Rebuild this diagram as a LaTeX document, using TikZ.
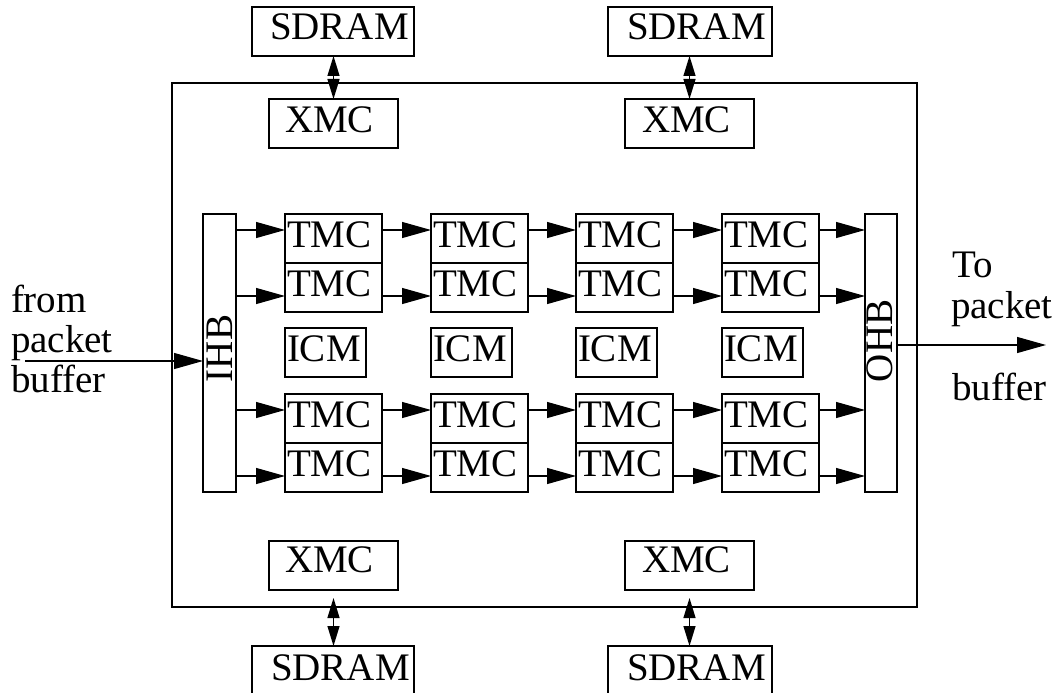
\documentclass[tikz,border=0pt]{standalone}
\usepackage{fontspec}
\setmainfont{Liberation Serif}
\usetikzlibrary{arrows.meta,calc}
\begin{document}
\begin{tikzpicture}[x=1pt,y=-1pt,
  box/.style={draw, line width=1.2pt, inner sep=0pt, outer sep=0pt, anchor=north west},
  lbl/.style={inner sep=0pt, outer sep=0pt, anchor=base west, font=\fontsize{39}{40}\selectfont},
  fw/.style={line width=1.2pt, -{Triangle[length=29pt,width=16pt]}},
  bi/.style={line width=1.2pt, {Triangle[length=20pt,width=12pt]}-{Triangle[length=20pt,width=12pt]}}]
\useasboundingbox (0,0) rectangle (1055,693);
\clip (0,0) rectangle (1055,693);

% chip outline
\node[box, minimum width=745pt, minimum height=524pt] (chip) at (172,83) {};

% SDRAM and XMC
\node[box, minimum width=162pt, minimum height=49pt] (sdtl) at (252,7) {};
\node[box, minimum width=164pt, minimum height=49pt] (sdtr) at (608,7) {};
\node[box, minimum width=129pt, minimum height=49pt] (xtl) at (269,99) {};
\node[box, minimum width=129pt, minimum height=49pt] (xtr) at (625,99) {};
\node[box, minimum width=129pt, minimum height=49pt] (xbl) at (269,541) {};
\node[box, minimum width=129pt, minimum height=49pt] (xbr) at (625,541) {};
\node[box, minimum width=162pt, minimum height=60pt] (sdbl) at (252,646) {};
\node[box, minimum width=164pt, minimum height=60pt] (sdbr) at (608,646) {};

\node[lbl] (sdtlT) at ($(sdtl.north west)+(18,33)$) {SDRAM};
\node[lbl] (sdtrT) at ($(sdtr.north west)+(19,33)$) {SDRAM};
\node[lbl] (xtlT) at ($(xtl.north west)+(16,33)$) {XMC};
\node[lbl] (xtrT) at ($(xtr.north west)+(17,33)$) {XMC};
\node[lbl] (xblT) at ($(xbl.north west)+(16,31)$) {XMC};
\node[lbl] (xbrT) at ($(xbr.north west)+(17,31)$) {XMC};
\node[lbl] (sdblT) at ($(sdbl.north west)+(19,34)$) {SDRAM};
\node[lbl] (sdbrT) at ($(sdbr.north west)+(19,34)$) {SDRAM};

\draw[bi] (sdtl.south -| xtl.north) -- (xtl.north);
\draw[bi] (sdtr.south -| xtr.north) -- (xtr.north);
\draw[bi, shorten <=8pt] (xbl.south) -- (xbl.south |- sdbl.north);
\draw[bi, shorten <=8pt] (xbr.south) -- (xbr.south |- sdbr.north);

% IHB / OHB
\node[box, minimum width=33pt, minimum height=278pt] (ihb) at (203,214) {};
\node[box, minimum width=32pt, minimum height=278pt] (ohb) at (865,214) {};
\node[lbl, rotate=90] (ihbT) at ($(ihb.south east)+(-4,-110)$) {IHB};
\node[lbl, rotate=90] (ohbT) at ($(ohb.south east)+(-5,-110)$) {OHB};

% TMC grid and ICM
\foreach \c/\x in {1/285,2/431,3/576,4/722}{
  \foreach \r/\y in {1/214,2/263,3/394,4/443}{
    \node[box, minimum width=97pt, minimum height=49pt] (t\r\c) at (\x,\y) {};
    \node[lbl] (t\r\c T) at ($(t\r\c.north west)+(2,33)$) {TMC};
  }
  \node[box, minimum width=81pt, minimum height=49pt] (icm\c) at (\x,328) {};
  \node[lbl] (icm\c T) at ($(icm\c.north west)+(2,33)$) {ICM};
}

% row arrow levels
\coordinate (r1) at (0,230);
\coordinate (r2) at (0,296);
\coordinate (r3) at (0,410);
\coordinate (r4) at (0,476);
\foreach \r in {1,2,3,4}{
  \draw[fw] (ihb.east |- r\r) -- (t\r1.west |- r\r);
  \foreach \a/\b in {1/2,2/3,3/4}{
    \draw[fw] (t\r\a.east |- r\r) -- (t\r\b.west |- r\r);
  }
  \draw[fw] (t\r4.east |- r\r) -- (ohb.west |- r\r);
}

% input / output
\coordinate (inL) at (25,361);
\draw[fw] (inL) -- (ihb.west |- inL);
\coordinate (outR) at (1046,345);
\draw[fw] (ohb.east |- outR) -- (outR);

\node[lbl] (from1) at (11,312) {from};
\node[lbl] (from2) at (11,352) {packet};
\node[lbl] (from3) at (11,392) {buffer};
\node[lbl] (to1) at (952,277) {To};
\node[lbl] (to2) at (951,318) {packet};
\node[lbl] (to3) at (952,400) {buffer};
\end{tikzpicture}
\end{document}
